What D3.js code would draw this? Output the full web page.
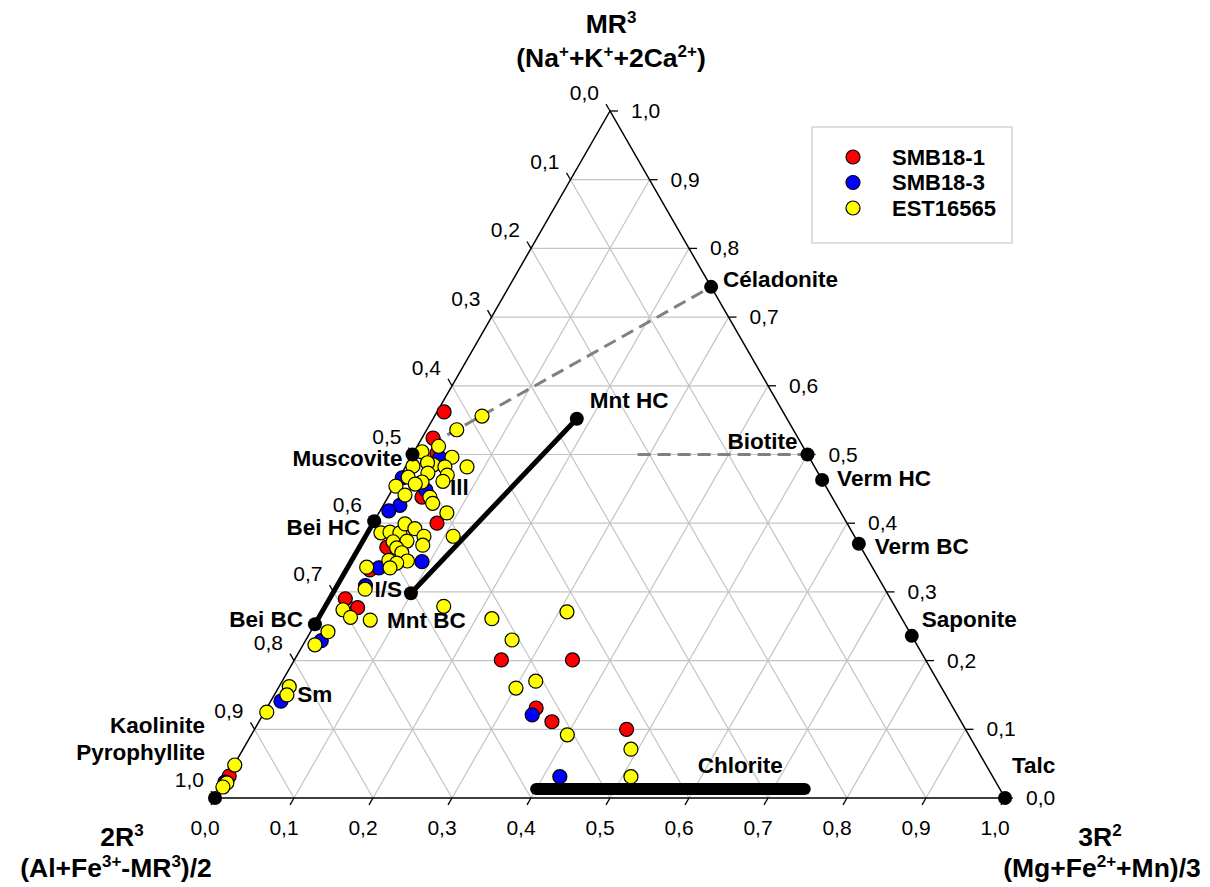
<!DOCTYPE html>
<html><head><meta charset="utf-8">
<script src="https://cdn.jsdelivr.net/npm/d3@7"></script>
<style>
body{margin:0;background:#fff}
svg{display:block}
text{font-family:"Liberation Sans",Arial,Helvetica,sans-serif;fill:#000}
</style>
</head><body>
<svg id="chart" width="1210" height="887"></svg>
<script>
// ---------- DATA (each point: [MR3, 3R2]; 2R3 = 1 - MR3 - 3R2) ----------
const seriesNames = ["SMB18-1", "SMB18-3", "EST16565"];
const seriesColors = ["#ff0000", "#0000ff", "#ffff00"];

const smb18_1 = [
  [0.562,0.009],[0.524,0.014],[0.502,0.030],[0.438,0.043],[0.400,0.081],
  [0.365,0.035],[0.332,0.030],[0.290,0.020],[0.277,0.042],[0.201,0.262],
  [0.201,0.352],[0.131,0.341],[0.111,0.371],[0.100,0.471],[0.032,0.002]
];
const smb18_3 = [
  [0.466,0.004],[0.495,0.037],[0.448,0.043],[0.426,0.021],[0.418,0.011],
  [0.344,0.090],[0.335,0.040],[0.309,0.036],[0.229,0.020],[0.121,0.341],
  [0.031,0.421],[0.141,0.013],[0.023,0.001]
];
const est16565 = [
  [0.556,0.060],[0.536,0.038],[0.512,0.027],[0.504,0.010],[0.496,0.052],
  [0.485,0.034],[0.488,0.025],[0.483,0.009],[0.482,0.050],[0.470,0.059],
  [0.482,0.078],[0.461,0.058],[0.473,0.033],[0.467,0.011],[0.460,0.032],
  [0.457,0.025],[0.454,0.002],[0.441,0.020],[0.438,0.053],[0.429,0.061],
  [0.415,0.086],[0.381,0.111],[0.386,0.017],[0.387,0.028],[0.386,0.041],
  [0.399,0.041],[0.392,0.057],[0.381,0.074],[0.373,0.039],[0.374,0.056],
  [0.368,0.079],[0.364,0.048],[0.357,0.058],[0.346,0.047],[0.345,0.071],
  [0.342,0.059],[0.335,0.054],[0.336,0.024],[0.304,0.038],[0.274,0.025],
  [0.263,0.040],[0.259,0.067],[0.279,0.150],[0.242,0.022],[0.223,0.015],
  [0.261,0.220],[0.271,0.310],[0.230,0.261],[0.160,0.301],[0.170,0.321],
  [0.092,0.400],[0.071,0.491],[0.031,0.511],[0.162,0.013],[0.150,0.016],
  [0.125,0.003],[0.048,0.001],[0.022,0.004],[0.016,0.002]
];

// reference end-members
const refNames = ["Céladonite","Biotite","Verm HC","Verm BC","Saponite","Talc",
                  "Muscovite","Bei HC","Bei BC","Kaolinite","I/S","Mnt HC"];
const refMR3 = [0.744,0.500,0.463,0.370,0.236,0.000,0.500,0.403,0.253,0.000,0.298,0.552];
const ref3R2 = [0.256,0.500,0.537,0.630,0.764,1.000,0.000,0.000,0.000,0.000,0.099,0.182];

// solid tie lines (by ref name), dashed lines, chlorite bar
const solidLinks = [["Bei HC","Bei BC"],["I/S","Mnt HC"]];
const dashedMuscCel = ["Muscovite","Céladonite"];
const biotiteDashEnd3R2 = 0.285;
const chloriteMR3 = 0.013;
const chlorite3R2 = [0.40, 0.74];

// free annotations: [text, MR3, 3R2]
const freeLabels = [["Ill",0.441,0.077],["Sm",0.140,0.034],["Chlorite",0.036,0.593]];

// ticks
const tickValues = [0,0.1,0.2,0.3,0.4,0.5,0.6,0.7,0.8,0.9,1.0];
const tickLabels = ["0,0","0,1","0,2","0,3","0,4","0,5","0,6","0,7","0,8","0,9","1,0"];

// ---------- LAYOUT ----------
const svg = d3.select("#chart");
const xS = d3.scaleLinear().domain([0,1]).range([215,1005]);
const yS = d3.scaleLinear().domain([0,1]).range([798,111]);
// point from (MR3, 3R2)
const P = (m, r) => [xS(r + m/2), yS(m)];

const gridColor = "#c4c4c4";
const g = svg.append("g");

// grid
const gridLines = [];
tickValues.filter(t => t > 0 && t < 1).forEach(t => {
  gridLines.push([P(t,0), P(t,1-t)]);       // const MR3
  gridLines.push([P(0,t), P(1-t,t)]);       // const 3R2
  gridLines.push([P(1-t,0), P(0,1-t)]);     // const 2R3
});
g.selectAll("line.grid").data(gridLines).enter().append("line")
  .attr("x1", d => d[0][0]).attr("y1", d => d[0][1])
  .attr("x2", d => d[1][0]).attr("y2", d => d[1][1])
  .attr("stroke", gridColor).attr("stroke-width", 1.2);

// triangle
const A = P(1,0), L = P(0,0), R = P(0,1);
g.append("path").attr("d", d3.line()([A, L, R]) + "Z")
  .attr("fill","none").attr("stroke","#000").attr("stroke-width",1.5);

// ticks
const tl = 8;
const tickFont = 21;
const dirRight = [tl, 0];
const dirLeft = [-0.498*tl, -0.867*tl];
const dirBottom = [-0.498*tl, 0.867*tl];
tickValues.forEach((t, i) => {
  const pl = P(1-t, 0);
  g.append("line").attr("x1",pl[0]).attr("y1",pl[1]).attr("x2",pl[0]+dirLeft[0]).attr("y2",pl[1]+dirLeft[1])
    .attr("stroke","#000").attr("stroke-width",1.3);
  g.append("text").attr("x", pl[0]-11).attr("y", pl[1]-11).attr("text-anchor","end")
    .attr("font-size",tickFont).text(tickLabels[i]);
  const pb = P(0, t);
  g.append("line").attr("x1",pb[0]).attr("y1",pb[1]).attr("x2",pb[0]+dirBottom[0]).attr("y2",pb[1]+dirBottom[1])
    .attr("stroke","#000").attr("stroke-width",1.3);
  g.append("text").attr("x", pb[0]-10).attr("y", pb[1]+37).attr("text-anchor","middle")
    .attr("font-size",tickFont).text(tickLabels[i]);
  const pr = P(t, 1-t);
  g.append("line").attr("x1",pr[0]).attr("y1",pr[1]).attr("x2",pr[0]+dirRight[0]).attr("y2",pr[1]+dirRight[1])
    .attr("stroke","#000").attr("stroke-width",1.3);
  g.append("text").attr("x", pr[0]+21).attr("y", pr[1]+7).attr("text-anchor","start")
    .attr("font-size",tickFont).text(tickLabels[i]);
});

const refPt = name => { const i = refNames.indexOf(name); return P(refMR3[i], ref3R2[i]); };

// dashed lines
const dashStyle = s => s.attr("stroke","#808080").attr("stroke-width",3).attr("stroke-dasharray","13,7").attr("fill","none");
dashStyle(g.append("path").attr("d", d3.line()([refPt(dashedMuscCel[0]), refPt(dashedMuscCel[1])])));
{
  const i = refNames.indexOf("Biotite");
  dashStyle(g.append("path").attr("d", d3.line()([P(refMR3[i], biotiteDashEnd3R2), refPt("Biotite")])));
}

// solid tie lines
solidLinks.forEach(([a,b]) => {
  g.append("path").attr("d", d3.line()([refPt(a), refPt(b)]))
    .attr("stroke","#000").attr("stroke-width",5).attr("fill","none");
});
// chlorite bar
g.append("path").attr("d", d3.line()([P(chloriteMR3, chlorite3R2[0]), P(chloriteMR3, chlorite3R2[1])]))
  .attr("stroke","#000").attr("stroke-width",12).attr("stroke-linecap","round").attr("fill","none");

// data points
[smb18_1, smb18_3, est16565].forEach((ser, si) => {
  g.append("g").selectAll("circle").data(ser).enter().append("circle")
    .attr("cx", d => P(d[0], d[1])[0]).attr("cy", d => P(d[0], d[1])[1])
    .attr("r", 7).attr("fill", seriesColors[si]).attr("stroke","#000").attr("stroke-width",1.2);
});

// reference dots
g.append("g").selectAll("circle").data(refNames).enter().append("circle")
  .attr("cx", (d,i) => P(refMR3[i], ref3R2[i])[0]).attr("cy", (d,i) => P(refMR3[i], ref3R2[i])[1])
  .attr("r", 7).attr("fill","#000");

// reference labels (offset style)
const refLabelStyle = {
  "Céladonite": [12, 0, "start"],
  "Biotite": [-10, -6, "end"],
  "Verm HC": [15, 6, "start"],
  "Verm BC": [16, 10, "start"],
  "Saponite": [10, -9, "start"],
  "Talc": [7, -25, "start"],
  "Muscovite": [-10, 11, "end"],
  "Bei HC": [-14, 14, "end"],
  "Bei BC": [-12, 3, "end"],
  "I/S": [-9, 4, "end"],
  "Mnt HC": [13, -11, "start"]
};
const bold = sel => sel.attr("font-size",22.5).attr("font-weight","bold");
refNames.forEach((n, i) => {
  const p = P(refMR3[i], ref3R2[i]);
  if (n === "Kaolinite") {
    bold(g.append("text").attr("x", p[0]-10).attr("y", p[1]-65).attr("text-anchor","end")).text("Kaolinite");
    bold(g.append("text").attr("x", p[0]-10).attr("y", p[1]-38).attr("text-anchor","end")).text("Pyrophyllite");
    return;
  }
  const s = refLabelStyle[n];
  bold(g.append("text").attr("x", p[0]+s[0]).attr("y", p[1]+s[1]).attr("text-anchor", s[2])).text(n);
  if (n === "I/S") {
    bold(g.append("text").attr("x", p[0]-24).attr("y", p[1]+35).attr("text-anchor","start")).text("Mnt BC");
  }
});
freeLabels.forEach(([t, m, r]) => {
  const p = P(m, r);
  bold(g.append("text").attr("x", p[0]).attr("y", p[1]).attr("text-anchor","start")).text(t);
});

// titles with superscripts
function richText(x, y, parts, size, supSize, anchor) {
  const t = svg.append("text").attr("x", x).attr("y", y).attr("text-anchor", anchor)
    .attr("font-size", size).attr("font-weight","bold");
  let up = false;
  parts.forEach(([s, sup]) => {
    const ts = t.append("tspan").text(s);
    if (sup && !up) { ts.attr("dy", -10).attr("font-size", supSize); up = true; }
    else if (sup && up) { ts.attr("font-size", supSize); }
    else if (!sup && up) { ts.attr("dy", 10); up = false; }
  });
  return t;
}
const tSize = 26.5, sSize = 17;
richText(611, 33, [["MR",0],["3",1]], tSize, sSize, "middle");
richText(611, 67, [["(Na",0],["+",1],["+K",0],["+",1],["+2Ca",0],["2+",1],[")",0]], tSize, sSize, "middle");
richText(122, 846, [["2R",0],["3",1]], tSize, sSize, "middle");
richText(116, 877, [["(Al+Fe",0],["3+",1],["-MR",0],["3",1],[")/2",0]], tSize, sSize, "middle");
richText(1100, 846, [["3R",0],["2",1]], tSize, sSize, "middle");
richText(1102, 877, [["(Mg+Fe",0],["2+",1],["+Mn)/3",0]], tSize, sSize, "middle");

// legend
const lg = svg.append("g");
lg.append("rect").attr("x",812).attr("y",127).attr("width",200).attr("height",116)
  .attr("fill","#fff").attr("stroke","#c8c8c8").attr("stroke-width",1.2);
seriesNames.forEach((n, i) => {
  const y = 157 + i*25.5;
  lg.append("circle").attr("cx",853).attr("cy",y).attr("r",7)
    .attr("fill",seriesColors[i]).attr("stroke","#000").attr("stroke-width",1.2);
  lg.append("text").attr("x",892).attr("y",y+7.5).attr("font-size",22).attr("font-weight","bold").text(n);
});
</script>
</body></html>
